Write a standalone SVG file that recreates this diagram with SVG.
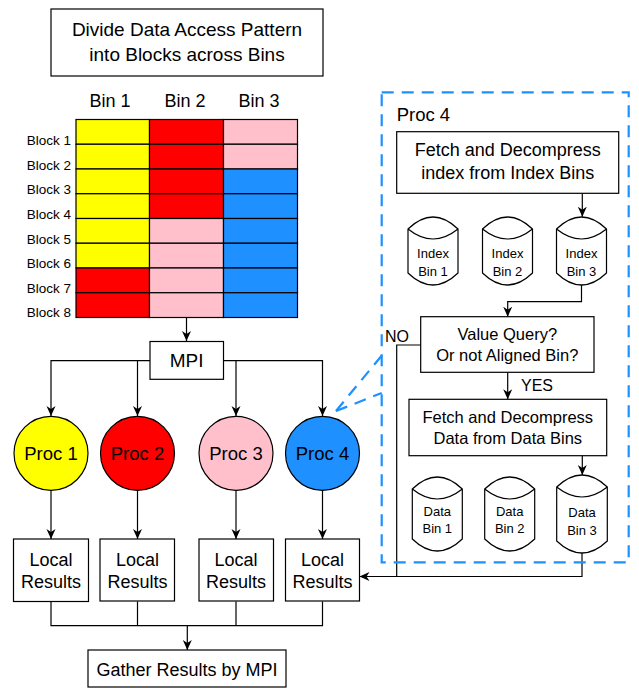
<svg xmlns="http://www.w3.org/2000/svg" width="639" height="688" viewBox="0 0 639 688">
<style>
text{font-family:"Liberation Sans",Arial,sans-serif;fill:#000}
.c{text-anchor:middle}
.box{fill:#fff;stroke:#000;stroke-width:1.2}
.cell{stroke:#000;stroke-width:1.2}
.ln{fill:none;stroke:#000;stroke-width:1.2}
.ar{fill:none;stroke:#000;stroke-width:1.2;marker-end:url(#arr)}
.dash{fill:none;stroke:#1E90FF;stroke-width:2.2;stroke-dasharray:12 8}
.y{fill:#FFFF00}.r{fill:#FF0000}.p{fill:#FFC0CB}.b{fill:#1E90FF}
.cyl{fill:#fff;stroke:#000;stroke-width:1.2}
</style>
<defs>
<marker id="arr" viewBox="0 0 10 10" refX="10" refY="5" markerWidth="10" markerHeight="10" markerUnits="userSpaceOnUse" orient="auto">
<path d="M0,0.5 L10,5 L0,9.5 L3,5 z" fill="#000"/>
</marker>
</defs>

<g id="title">
<rect class="box" x="51" y="9" width="272" height="67"/>
<text class="c" x="187" y="36" font-size="19">Divide Data Access Pattern</text>
<text class="c" x="187" y="60.5" font-size="19">into Blocks across Bins</text>
</g>

<g id="grid">
<text class="c" x="110" y="107" font-size="18">Bin 1</text>
<text class="c" x="185" y="107" font-size="18">Bin 2</text>
<text class="c" x="259" y="107" font-size="18">Bin 3</text>
<g font-size="13.5" text-anchor="end">
<text x="71" y="145">Block 1</text>
<text x="71" y="169.5">Block 2</text>
<text x="71" y="194">Block 3</text>
<text x="71" y="219">Block 4</text>
<text x="71" y="243.5">Block 5</text>
<text x="71" y="268">Block 6</text>
<text x="71" y="292.5">Block 7</text>
<text x="71" y="317">Block 8</text>
</g>
<rect class="cell y" x="76" y="119.5" width="73.5" height="24.75"/>
<rect class="cell y" x="76" y="144.25" width="73.5" height="24.75"/>
<rect class="cell y" x="76" y="169" width="73.5" height="24.75"/>
<rect class="cell y" x="76" y="193.75" width="73.5" height="24.75"/>
<rect class="cell y" x="76" y="218.5" width="73.5" height="24.75"/>
<rect class="cell y" x="76" y="243.25" width="73.5" height="24.75"/>
<rect class="cell r" x="76" y="268" width="73.5" height="24.75"/>
<rect class="cell r" x="76" y="292.75" width="73.5" height="24.75"/>
<rect class="cell r" x="149.5" y="119.5" width="74" height="24.75"/>
<rect class="cell r" x="149.5" y="144.25" width="74" height="24.75"/>
<rect class="cell r" x="149.5" y="169" width="74" height="24.75"/>
<rect class="cell r" x="149.5" y="193.75" width="74" height="24.75"/>
<rect class="cell p" x="149.5" y="218.5" width="74" height="24.75"/>
<rect class="cell p" x="149.5" y="243.25" width="74" height="24.75"/>
<rect class="cell p" x="149.5" y="268" width="74" height="24.75"/>
<rect class="cell p" x="149.5" y="292.75" width="74" height="24.75"/>
<rect class="cell p" x="223.5" y="119.5" width="74" height="24.75"/>
<rect class="cell p" x="223.5" y="144.25" width="74" height="24.75"/>
<rect class="cell b" x="223.5" y="169" width="74" height="24.75"/>
<rect class="cell b" x="223.5" y="193.75" width="74" height="24.75"/>
<rect class="cell b" x="223.5" y="218.5" width="74" height="24.75"/>
<rect class="cell b" x="223.5" y="243.25" width="74" height="24.75"/>
<rect class="cell b" x="223.5" y="268" width="74" height="24.75"/>
<rect class="cell b" x="223.5" y="292.75" width="74" height="24.75"/>
</g>

<g id="connectors">
<path class="ar" d="M186.5,317.5 V341"/>
<path class="ar" d="M150,360.7 H51 V416"/>
<path class="ar" d="M137.5,360.7 V416"/>
<path class="ar" d="M223.5,360.7 H322.5 V416"/>
<path class="ar" d="M236,360.7 V416"/>
<path class="ar" d="M51,490.5 V539"/>
<path class="ar" d="M137.5,490.5 V539"/>
<path class="ar" d="M236,490.5 V539"/>
<path class="ar" d="M322.5,490.5 V539"/>
<path class="ln" d="M51,601.5 V625.7 H322.5 V601.5 M137.5,601.5 V625.7 M236,601.5 V625.7"/>
<path class="ar" d="M187.3,625.7 V650"/>
<path class="ar" d="M582.3,193.3 V216.7"/>
<path class="ar" d="M581.5,285 V301.7 H507.7 V316.7"/>
<path class="ar" d="M507.7,372.3 V399.3"/>
<path class="ar" d="M582.3,455.7 V475"/>
<path class="ar" d="M582,553 V576.5 H359.5"/>
<path class="ln" d="M420.7,345 H396.7 V576.5"/>
<path class="dash" d="M336,411 L383,354"/>
<path class="dash" d="M336,411 L381.7,393"/>
<text x="385" y="341.7" font-size="16">NO</text>
<text x="521" y="391" font-size="16">YES</text>
</g>

<g id="mpi">
<rect class="box" x="150" y="341.5" width="73.5" height="37.8"/>
<text class="c" x="186.7" y="367" font-size="19">MPI</text>
</g>

<g id="proc1"><circle cx="51" cy="453.3" r="37" class="cell y"/><text class="c" x="51" y="459.5" font-size="18.5">Proc 1</text></g>
<g id="proc2"><circle cx="137.5" cy="453.3" r="37" class="cell r"/><text class="c" x="137.5" y="459.5" font-size="18.5">Proc 2</text></g>
<g id="proc3"><circle cx="236" cy="453.3" r="37" class="cell p"/><text class="c" x="236" y="459.5" font-size="18.5">Proc 3</text></g>
<g id="proc4"><circle cx="322.5" cy="453.3" r="37" class="cell b"/><text class="c" x="322.5" y="459.5" font-size="18.5">Proc 4</text></g>

<g id="local1"><rect class="box" x="13.5" y="539" width="75" height="62.5"/><text class="c" x="51" y="566" font-size="18">Local</text><text class="c" x="51" y="588.3" font-size="18">Results</text></g>
<g id="local2"><rect class="box" x="100" y="539" width="74.5" height="62"/><text class="c" x="137.5" y="566" font-size="18">Local</text><text class="c" x="137.5" y="588.3" font-size="18">Results</text></g>
<g id="local3"><rect class="box" x="199" y="539" width="74.5" height="62"/><text class="c" x="236" y="566" font-size="18">Local</text><text class="c" x="236" y="588.3" font-size="18">Results</text></g>
<g id="local4"><rect class="box" x="285.5" y="539" width="74" height="62"/><text class="c" x="322.5" y="566" font-size="18">Local</text><text class="c" x="322.5" y="588.3" font-size="18">Results</text></g>

<g id="gather">
<rect class="box" x="88" y="650" width="198" height="37"/>
<text class="c" x="187" y="676" font-size="18">Gather Results by MPI</text>
</g>

<g id="proc4-detail">
<rect class="dash" x="381.7" y="92.3" width="247" height="470"/>
<text x="396.7" y="120.7" font-size="18.5">Proc 4</text>
</g>

<g id="fetch-index">
<rect class="box" x="396.7" y="131.7" width="222" height="61.6"/>
<text class="c" x="507.7" y="156" font-size="18">Fetch and Decompress</text>
<text class="c" x="507.7" y="179.3" font-size="18">index from Index Bins</text>
</g>

<g id="index-bin1">
<path class="cyl" d="M408,229 Q433,205 458,229 V273 Q433,297 408,273 Z M408,229 Q433,249 458,229"/>
<text class="c" x="433" y="258.3" font-size="13">Index</text><text class="c" x="433" y="275.7" font-size="13">Bin 1</text>
</g>
<g id="index-bin2">
<path class="cyl" d="M482.5,229 Q507.5,205 532.5,229 V273 Q507.5,297 482.5,273 Z M482.5,229 Q507.5,249 532.5,229"/>
<text class="c" x="507.5" y="258.3" font-size="13">Index</text><text class="c" x="507.5" y="275.7" font-size="13">Bin 2</text>
</g>
<g id="index-bin3">
<path class="cyl" d="M556.5,229 Q581.5,205 606.5,229 V273 Q581.5,297 556.5,273 Z M556.5,229 Q581.5,249 606.5,229"/>
<text class="c" x="581.5" y="258.3" font-size="13">Index</text><text class="c" x="581.5" y="275.7" font-size="13">Bin 3</text>
</g>

<g id="decision">
<rect class="box" x="420.7" y="316.7" width="173.3" height="55.6"/>
<text class="c" x="507.3" y="340" font-size="16.5">Value Query?</text>
<text class="c" x="507.3" y="361" font-size="16.5">Or not Aligned Bin?</text>
</g>

<g id="fetch-data">
<rect class="box" x="409" y="399.3" width="197.7" height="56.4"/>
<text class="c" x="507.8" y="423.3" font-size="16.5">Fetch and Decompress</text>
<text class="c" x="507.8" y="443.5" font-size="16.5">Data from Data Bins</text>
</g>

<g id="data-bin1">
<path class="cyl" d="M412.3,489 Q437.3,465 462.3,489 V539 Q437.3,563 412.3,539 Z M412.3,489 Q437.3,509 462.3,489"/>
<text class="c" x="437.3" y="516" font-size="13">Data</text><text class="c" x="437.3" y="533.3" font-size="13">Bin 1</text>
</g>
<g id="data-bin2">
<path class="cyl" d="M484.7,489 Q509.7,465 534.7,489 V539 Q509.7,563 484.7,539 Z M484.7,489 Q509.7,509 534.7,489"/>
<text class="c" x="509.7" y="516" font-size="13">Data</text><text class="c" x="509.7" y="533.3" font-size="13">Bin 2</text>
</g>
<g id="data-bin3">
<path class="cyl" d="M556.7,487 Q582,463 607.3,487 V541 Q582,565 556.7,541 Z M556.7,487 Q582,507 607.3,487"/>
<text class="c" x="582" y="516.7" font-size="13">Data</text><text class="c" x="582" y="535" font-size="13">Bin 3</text>
</g>
</svg>
